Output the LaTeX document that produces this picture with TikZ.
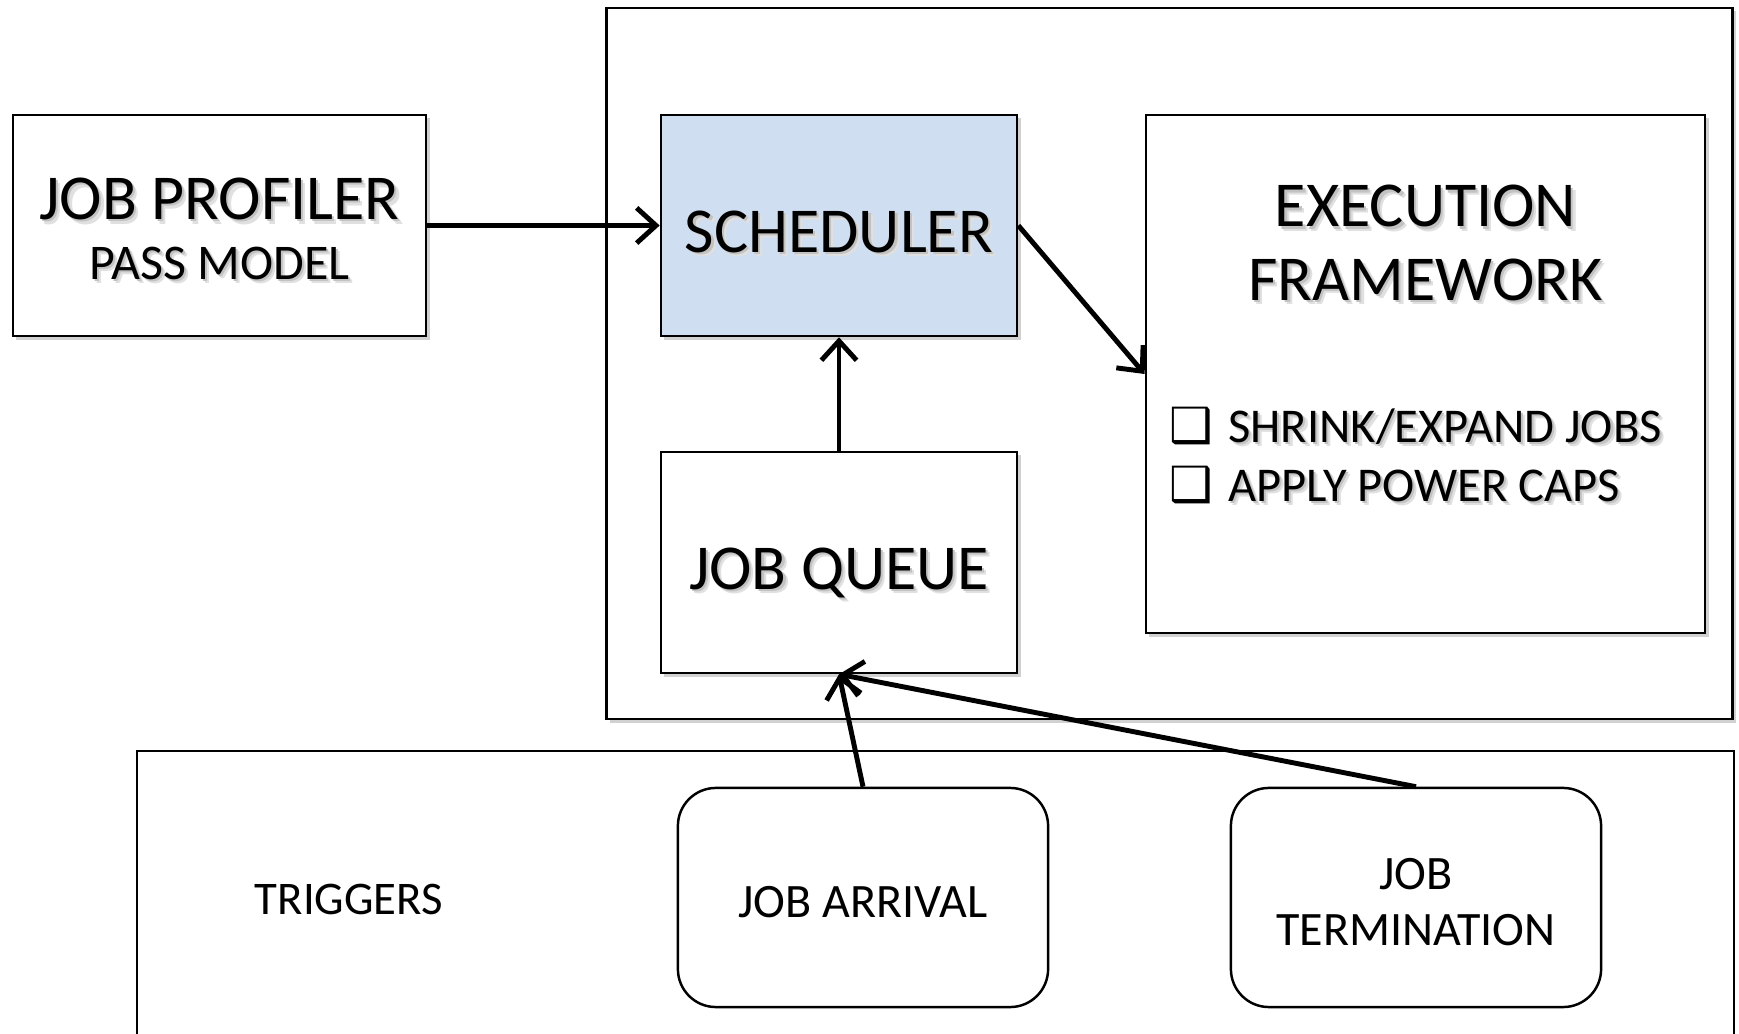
\documentclass[tikz,border=0pt]{standalone}
\usepackage{fontspec}
\setmainfont{Carlito}
\newfontfamily\symfont{DejaVu Sans}
\definecolor{SCHEDblue}{RGB}{207,222,240}
\usetikzlibrary{arrows.meta,positioning,shadows}

% soft shadow behind a line of text
\newcommand{\shtxt}[1]{\leavevmode\rlap{\hspace{1.2pt}\raisebox{-1.2pt}{\color{black!12}#1}}\rlap{\hspace{0.6pt}\raisebox{-0.6pt}{\color{black!24}#1}}#1}
\newcommand{\chkbox}{{\symfont\char"2751}}

\begin{document}
\begin{tikzpicture}[x=0.01cm, y=0.01cm,
    panel/.style={draw, line width=0.7pt, fill=white, inner sep=0pt,
      drop shadow={shadow xshift=1pt, shadow yshift=-1pt, fill=black, opacity=0.18}},
    bigtext/.style={font=\fontsize{18.2}{20.8}\selectfont},
    midbox/.style={panel, bigtext, minimum width=3.56cm, minimum height=2.21cm,
      text height=15.1pt, text depth=0pt},
    trigbox/.style={draw, line width=0.7pt, rounded corners=0.38cm, align=center,
      minimum width=3.7cm, minimum height=2.19cm, font=\fontsize{13.65}{15.9}\selectfont},
    flow/.style={-{Straight Barb[length=5.5pt,width=10pt]}, line width=1.4pt}]
    \useasboundingbox (0,0) rectangle (1739,1033);
    \clip (0,0) rectangle (1739,1033);

    % triggers strip
    \node[draw, line width=0.7pt, anchor=north west, minimum width=15.96cm, minimum height=3.2cm] (triggers) at (136,283) {};
    \node[anchor=base, font=\fontsize{13.3}{15.9}\selectfont] (trigtext) at (349,118) {TRIGGERS};
    \node[trigbox, text height=11.6pt, text depth=0pt] (arrival) at (863,135.5) {JOB ARRIVAL};
    \node[trigbox] (termination) at (1416,135.5) {\rule{0pt}{11.6pt}JOB\\TERMINATION};

    % runtime system
    \node[panel, minimum width=11.25cm, minimum height=7.11cm] (system) at (1169.5,669.5) {};
    \node[midbox, fill=SCHEDblue] (scheduler) at (839,807.5) {\shtxt{SCHEDULER}};
    \node[midbox] (queue) at (839,470.5) {\shtxt{JOB QUEUE}};
    \node[panel, minimum width=5.59cm, minimum height=5.18cm] (exec) at (1425.5,659) {};
    \node[bigtext, align=center, inner sep=0pt, below=0.71cm of exec.north] (exectitle)
        {\shtxt{EXECUTION}\\\shtxt{FRAMEWORK}};
    \node[align=left, inner sep=0pt, font=\fontsize{13.8}{16.8}\selectfont,
        below right=0.32cm and 0.24cm of exec.west] (exectasks)
        {\chkbox\hspace{0.32em}\shtxt{SHRINK/EXPAND JOBS}\\
         \chkbox\hspace{0.32em}\shtxt{APPLY POWER CAPS}};

    % profiler
    \node[panel, align=center, font=\fontsize{18.2}{17}\selectfont,
        minimum width=4.13cm, minimum height=2.21cm] (profiler) at (219.5,807.5)
        {\rule{0pt}{15.1pt}\shtxt{JOB PROFILER}\\{\fontsize{14.2}{17}\selectfont\shtxt{PASS MODEL}}};

    \draw[flow] (profiler.east) -- (scheduler.west);
    \draw[flow] (scheduler.east) -- (exec.west);
    \draw[flow] (queue.north) -- (scheduler.south);
    \draw[flow] (arrival.north) -- (queue.south);
    \draw[flow] (termination.north) -- (queue.south);
\end{tikzpicture}
\end{document}
